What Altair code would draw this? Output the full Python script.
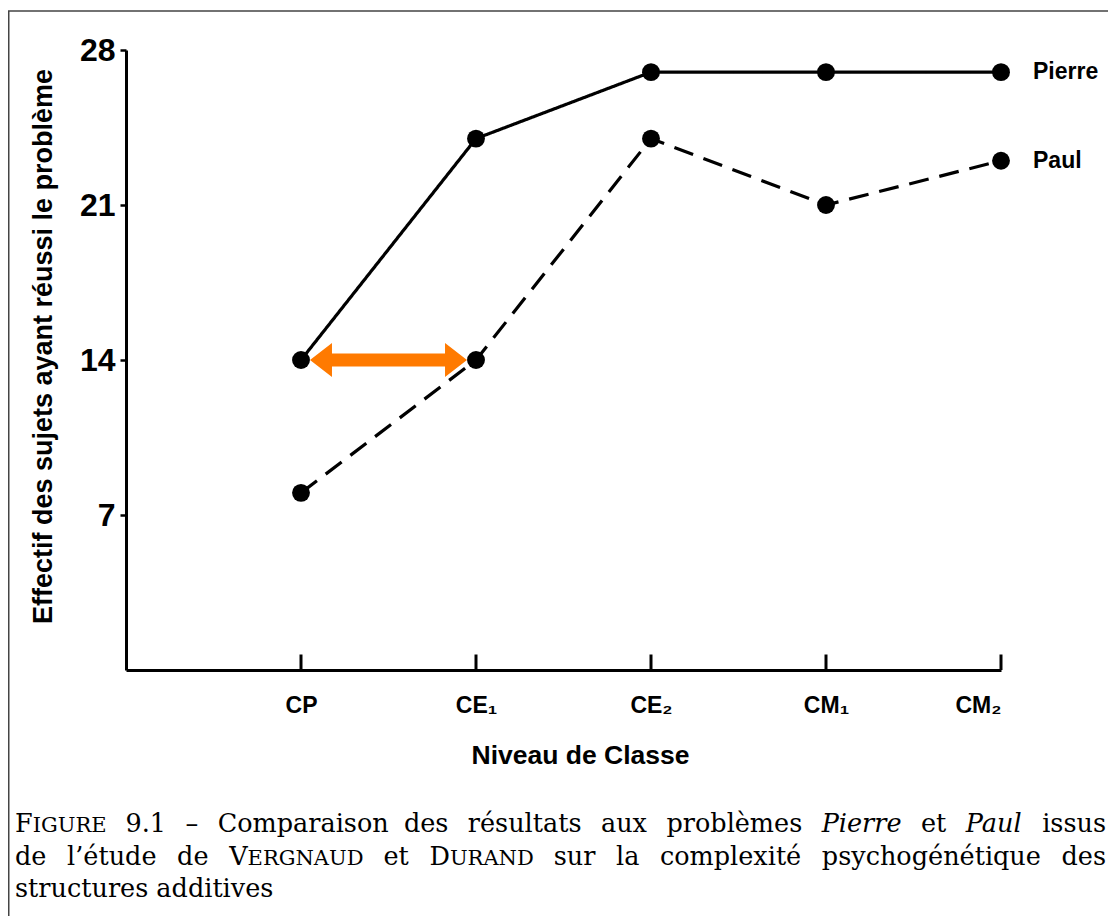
import altair as alt
import pandas as pd

# ---- data ----
levels = ["CP", "CE₁", "CE₂", "CM₁", "CM₂"]
level_pos = [1, 2, 3, 4, 5]
pierre = [14, 24, 27, 27, 27]
paul = [8, 14, 24, 21, 23]
series_names = ["Pierre", "Paul"]
y_ticks = [7, 14, 21, 28]

# ---- layout constants ----
OX, OY = 126, 50          # page position of plot origin
W, H = 875, 620
SVG_W, SVG_H = 1100, 908
SANS = "Liberation Sans"
SERIF = "DejaVu Serif"

df = pd.DataFrame({
    "pos": level_pos * 2,
    "niveau": levels * 2,
    "val": pierre + paul,
    "serie": [series_names[0]] * 5 + [series_names[1]] * 5,
})
last = df[df["pos"] == level_pos[-1]]
ticks_df = pd.DataFrame({"pos": level_pos, "y0": [0] * 5, "y1": [0.7] * 5})
arrow_df = pd.DataFrame({"pos": [(level_pos[0] + level_pos[1]) / 2], "val": [pierre[0]]})

label_expr = "['', " + ", ".join(f"'{l}'" for l in levels) + "][datum.value]"

xscale = alt.Scale(domain=[0, 5], nice=False, zero=False)
yscale = alt.Scale(domain=[0, 28], nice=False)

x_axis = alt.Axis(
    values=level_pos, labelExpr=label_expr, ticks=False, grid=False,
    domainColor="black", domainWidth=3,
    labelFont=SANS, labelFontSize=23, labelFontWeight="bold", labelColor="black",
    labelPadding=24, title="Niveau de Classe", titleFont=SANS, titleFontSize=26.5,
    titleFontWeight="bold", titleColor="black", titleX=454, titleY=85,
    titleAlign="center", titleBaseline="middle",
)
y_axis = alt.Axis(
    values=y_ticks, grid=False, domainColor="black", domainWidth=3,
    tickColor="black", tickWidth=2.5, tickSize=6,
    labelFont=SANS, labelFontSize=32, labelFontWeight="bold", labelColor="black",
    labelPadding=5, title="Effectif des sujets ayant réussi le problème",
    titleFont=SANS, titleFontSize=27, titleFontWeight="bold", titleColor="black",
    titleX=-83, titleY=296, titleAngle=-90, titleAlign="center", titleBaseline="middle",
)

base = alt.Chart(df)
X = alt.X("pos:Q", scale=xscale, axis=x_axis)
Y = alt.Y("val:Q", scale=yscale, axis=y_axis)

lines = base.mark_line(color="black", strokeWidth=3.2).encode(
    x=X, y=Y,
    detail="serie:N",
    strokeDash=alt.StrokeDash("serie:N", scale=alt.Scale(domain=series_names, range=[[1, 0], [20, 11]]), legend=None),
)

arrow_path = ("M-1,0 L-0.72,-0.217 L-0.72,-0.083 L0.72,-0.083 L0.72,-0.217 L1,0 "
              "L0.72,0.217 L0.72,0.083 L-0.72,0.083 L-0.72,0.217 Z")
arrow = alt.Chart(arrow_df).mark_point(
    shape=arrow_path, filled=True, fill="#ff7a00", opacity=1, strokeWidth=0, size=157 * 157
).encode(x=alt.X("pos:Q", scale=xscale), y=alt.Y("val:Q", scale=yscale))

points = base.mark_circle(color="black", opacity=1, size=320).encode(x=X, y=Y)

xticks = alt.Chart(ticks_df).mark_rule(color="black", strokeWidth=3).encode(
    x=alt.X("pos:Q", scale=xscale), y=alt.Y("y0:Q", scale=yscale), y2="y1:Q"
)

end_labels = alt.Chart(last).mark_text(
    align="left", baseline="middle", dx=32, font=SANS, fontSize=23, fontWeight="bold", color="black"
).encode(x=alt.X("pos:Q", scale=xscale), y=alt.Y("val:Q", scale=yscale), text="serie:N")

frame = alt.Chart(pd.DataFrame({"a": [0]})).mark_rect(
    fillOpacity=0, stroke="#444444", strokeWidth=1.5
).encode(x=alt.value(8.75 - OX), y=alt.value(11 - OY), x2=alt.value(1140 - OX), y2=alt.value(950 - OY))

# ---- caption (justified word by word, approximate DejaVu Serif advance widths) ----
CW = {" ": .318, "a": .596, "b": .640, "c": .560, "d": .640, "e": .592, "f": .370, "g": .640,
      "h": .644, "i": .320, "j": .310, "k": .606, "l": .320, "m": .948, "n": .644, "o": .602,
      "p": .640, "q": .640, "r": .478, "s": .513, "t": .402, "u": .644, "v": .565, "w": .856,
      "x": .564, "y": .565, "z": .527, "é": .592, "è": .592, "’": .318, ".": .318, "–": .5,
      "A": .722, "D": .804, "E": .730, "F": .694, "G": .799, "I": .400, "N": .869, "P": .673,
      "R": .753, "U": .812, "V": .722}
for d in "0123456789":
    CW[d] = .636


def tw(s, size):
    return sum(CW.get(c, .6) for c in s) * size


BIG, SC = 25.5, 21
caption_lines = [
    ([[("F", BIG, "normal"), ("IGURE", SC, "normal")], [("9.1", BIG, "normal")], [("–", BIG, "normal")],
      [("Comparaison", BIG, "normal")], [("des", BIG, "normal")], [("résultats", BIG, "normal")],
      [("aux", BIG, "normal")], [("problèmes", BIG, "normal")], [("Pierre", BIG, "italic")],
      [("et", BIG, "normal")], [("Paul", BIG, "italic")], [("issus", BIG, "normal")]], 832, True),
    ([[("de", BIG, "normal")], [("l’étude", BIG, "normal")], [("de", BIG, "normal")],
      [("V", BIG, "normal"), ("ERGNAUD", SC, "normal")], [("et", BIG, "normal")],
      [("D", BIG, "normal"), ("URAND", SC, "normal")], [("sur", BIG, "normal")], [("la", BIG, "normal")],
      [("complexité", BIG, "normal")], [("psychogénétique", BIG, "normal")], [("des", BIG, "normal")]], 865, True),
    ([[("structures", BIG, "normal")], [("additives", BIG, "normal")]], 897, False),
]
LEFT, RIGHT = 15, 1106
one = pd.DataFrame({"a": [0]})
cap_layers = []
for words, py, justify in caption_lines:
    widths = [sum(tw(t, s) for t, s, _ in w) for w in words]
    gap = (RIGHT - LEFT - sum(widths)) / (len(words) - 1) if justify else CW[" "] * BIG
    x = LEFT
    for i, w in enumerate(words):
        last_word = justify and i == len(words) - 1
        if last_word:
            x = RIGHT - widths[i]
        for t, s, st in w:
            cap_layers.append(
                alt.Chart(one).mark_text(
                    text=t, font=SERIF, fontSize=s, fontStyle=st, align="left",
                    baseline="alphabetic", color="black"
                ).encode(x=alt.value(x - OX), y=alt.value(py - OY))
            )
            x += tw(t, s)
        x += gap

chart = alt.layer(frame, lines, arrow, points, xticks, end_labels, *cap_layers).properties(
    width=W, height=H,
    autosize=alt.AutoSizeParams(type="none"),
    padding={"left": OX - 8, "top": OY - 8, "right": SVG_W - (OX - 8) - W, "bottom": SVG_H - (OY - 8) - H},
).configure_view(stroke=None)

chart.save("out.html", embed_options={"renderer": "svg", "actions": False})
